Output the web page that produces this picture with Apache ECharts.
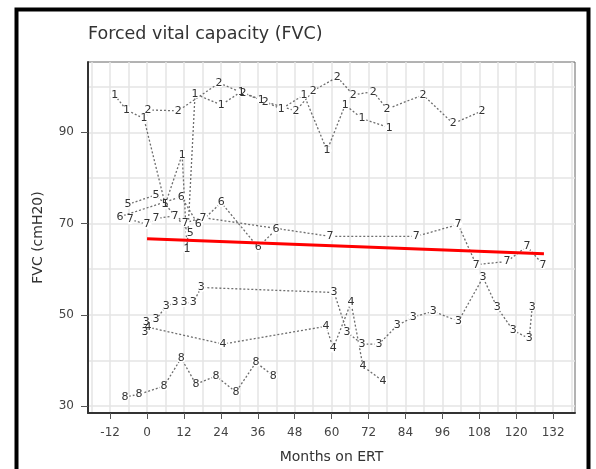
<!DOCTYPE html>
<html>
<head>
<meta charset="utf-8">
<script src="https://cdn.jsdelivr.net/npm/echarts@6/dist/echarts.min.js"></script>
<style>
  html, body { margin: 0; padding: 0; background: #fff; }
  #chart { width: 596px; height: 469px; }
</style>
</head>
<body>
<div id="chart"></div>
<script>
  // [months on ERT, FVC] per patient
  const patient1 = [[-10.5, 98.1], [-6.7, 94.9], [-1.0, 93.0], [5.9, 74.2], [11.4, 85.1], [13.0, 64.3], [15.6, 98.4],
    [24.1, 96.0], [30.6, 98.9], [37.1, 97.1], [43.6, 95.1], [51.0, 98.2], [58.5, 86.0], [64.4, 96.0], [69.9, 93.0], [78.7, 91.0]];
  const patient2 = [[0.3, 94.9], [10.1, 94.7], [23.4, 100.8], [31.2, 98.6], [38.4, 96.7], [48.4, 94.7], [54.0, 99.1],
    [61.8, 102.1], [67.0, 98.2], [73.5, 98.9], [78.0, 95.1], [89.7, 98.2], [99.5, 91.9], [108.9, 94.7]];
  const patient3 = [[-0.7, 46.2], [-0.3, 48.4], [2.9, 49.0], [6.2, 51.9], [9.1, 52.7], [12.0, 52.7], [15.0, 52.7], [17.6, 56.0],
    [60.8, 54.9], [65.0, 46.2], [69.9, 43.6], [75.4, 43.6], [81.3, 47.7], [86.5, 49.5], [93.0, 50.8], [101.2, 48.6],
    [109.2, 58.2], [113.8, 51.6], [119.0, 46.6], [124.2, 44.8], [125.2, 51.8]];
  const patient4 = [[0.3, 47.3], [24.7, 43.6], [58.2, 47.5], [60.5, 42.7], [66.3, 52.7], [70.2, 38.7], [76.7, 35.5]];
  const patient5 = [[-6.2, 74.2], [2.9, 76.3], [5.9, 74.2], [14.0, 68.0]];
  const patient6 = [[-8.8, 71.5], [11.1, 75.9], [16.6, 69.8], [24.1, 74.6], [36.1, 64.8], [41.9, 68.7]];
  const patient7 = [[-5.5, 70.9], [0, 69.8], [2.9, 71.1], [9.1, 71.7], [12.4, 70.2], [18.2, 71.3], [59.5, 67.2],
    [87.5, 67.2], [101.1, 69.8], [107.0, 61.0], [117.0, 61.7], [123.5, 65.0], [128.7, 61.0]];
  const patient8 = [[-7.2, 32.0], [-2.6, 32.6], [5.5, 34.4], [11.1, 40.5], [15.9, 34.8], [22.4, 36.6], [28.9, 33.1],
    [35.4, 39.6], [41.0, 36.6]];
  const trendLine = [[0, 66.7], [129, 63.4]];

  const xTicks = [-12, 0, 12, 24, 36, 48, 60, 72, 84, 96, 108, 120, 132];
  const xGridLines = [-18, -12, -6, 0, 6, 12, 18, 24, 30, 36, 42, 48, 54, 60, 66, 72, 78, 84, 90, 96, 102, 108, 114, 120, 126, 132, 138];
  const yTicks = [30, 50, 70, 90];
  const yGridLines = [30, 40, 50, 60, 70, 80, 90, 100];

  const patients = [
    ["1", patient1], ["2", patient2], ["3", patient3], ["4", patient4],
    ["5", patient5], ["6", patient6], ["7", patient7], ["8", patient8]
  ];

  const font = "DejaVu Sans";
  const xRange = { min: -19.2, max: 139.1 };
  const yRange = { min: 28.5, max: 105.4 };

  function patientSeries(label, data) {
    return {
      name: label,
      type: "line",
      xAxisIndex: 0,
      yAxisIndex: 0,
      data: data,
      symbol: "circle",
      symbolSize: 9,
      showSymbol: true,
      itemStyle: { color: "#fff", borderWidth: 0 },
      lineStyle: { color: "#6e6e6e", width: 1.3, type: [2, 2] },
      label: {
        show: true,
        position: "inside",
        formatter: label,
        color: "#333",
        fontSize: 11,
        fontFamily: font
      },
      emphasis: { disabled: true },
      z: 3
    };
  }

  const chart = echarts.init(document.getElementById("chart"));

  chart.setOption({
    animation: false,
    backgroundColor: "#fff",
    title: {
      text: "Forced vital capacity (FVC)",
      left: 88,
      top: 25,
      padding: 0,
      textStyle: { fontFamily: font, fontSize: 17.5, fontWeight: "normal", color: "#333" }
    },
    graphic: [{
      type: "rect",
      shape: { x: 16.5, y: 9.5, width: 572, height: 480 },
      style: { fill: "none", stroke: "#000", lineWidth: 4 },
      silent: true
    }],
    grid: {
      left: 88, right: 21, top: 62, bottom: 55,
      show: true,
      backgroundColor: "#fff",
      borderColor: "#666",
      borderWidth: 1
    },
    xAxis: [{
      type: "value",
      min: xRange.min,
      max: xRange.max,
      position: "bottom",
      name: "Months on ERT",
      nameLocation: "middle",
      nameGap: 37,
      nameTextStyle: { fontFamily: font, fontSize: 14, color: "#333" },
      axisLine: { show: true, onZero: false, lineStyle: { color: "#333", width: 2 } },
      axisTick: { show: true, customValues: xTicks, length: 6, lineStyle: { color: "#555" } },
      axisLabel: { customValues: xTicks, margin: 14, color: "#444", fontSize: 12, fontFamily: font },
      splitLine: { show: false }
    }, {
      type: "value",
      min: xRange.min,
      max: xRange.max,
      position: "bottom",
      axisLine: { show: false },
      axisTick: { show: false, customValues: xGridLines },
      axisLabel: { show: false },
      splitLine: { show: true, lineStyle: { color: "#e4e4e4", width: 1.5 } }
    }],
    yAxis: [{
      type: "value",
      min: yRange.min,
      max: yRange.max,
      position: "left",
      name: "FVC (cmH20)",
      nameLocation: "middle",
      nameGap: 43,
      nameTextStyle: { fontFamily: font, fontSize: 14, color: "#333" },
      axisLine: { show: true, onZero: false, lineStyle: { color: "#333", width: 2 } },
      axisTick: { show: true, customValues: yTicks, length: 7, lineStyle: { color: "#555" } },
      axisLabel: { customValues: yTicks, margin: 14, color: "#444", fontSize: 12, fontFamily: font },
      splitLine: { show: false }
    }, {
      type: "value",
      min: yRange.min,
      max: yRange.max,
      position: "left",
      axisLine: { show: false },
      axisTick: { show: false, customValues: yGridLines },
      axisLabel: { show: false },
      splitLine: { show: true, lineStyle: { color: "#e4e4e4", width: 1.5 } }
    }],
    series: patients.map((p) => patientSeries(p[0], p[1])).concat([{
      name: "trend",
      type: "line",
      data: trendLine,
      symbol: "none",
      lineStyle: { color: "#ff0000", width: 3 },
      emphasis: { disabled: true },
      z: 5
    }])
  });
</script>
</body>
</html>
